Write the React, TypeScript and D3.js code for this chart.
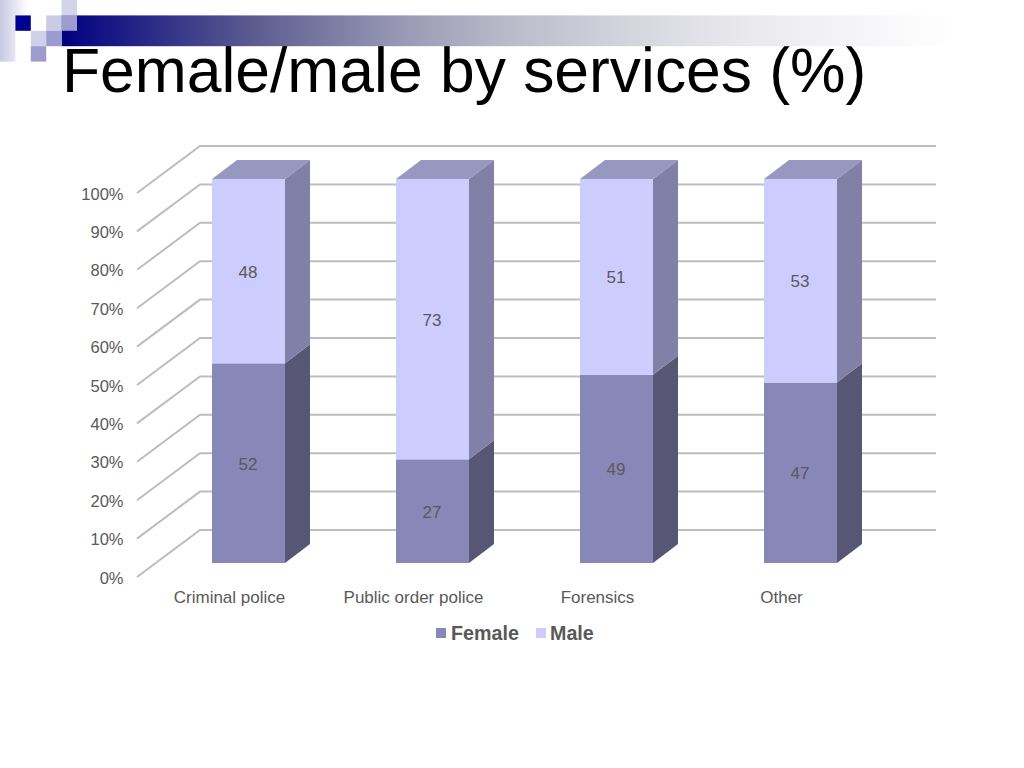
import * as d3 from 'd3';

const categories = ['Criminal police', 'Public order police', 'Forensics', 'Other'];
const female = [52, 27, 49, 47];
const male = [48, 73, 51, 53];
const yTicks = [0, 10, 20, 30, 40, 50, 60, 70, 80, 90, 100];
const seriesNames = ['Female', 'Male'];
const titleText = 'Female/male by services (%)';

const W = 1024;
const H = 768;
const textGrey = '#595959';
const fontFamily = "'Liberation Sans', Arial, sans-serif";

// front plane of the 3d walls, the back plane sits up and to the right of it
const wallDx = 63;
const wallDy = -47;
const barDx = 25;
const barDy = -19;

const xScale = d3.scaleBand<string>().domain(categories).range([137, 873]);
const yWall = d3.scaleLinear().domain([0, 100]).range([577, 193]);
const yBar = d3.scaleLinear().domain([0, 100]).range([563, 179]);
const barWidth = 73;
const barOffset = 19.5;

const rows = categories.map((c, i) => ({ category: c, Female: female[i], Male: male[i] }));
const stacked = d3.stack<any>().keys(seriesNames)(rows);

const colors: Record<string, { front: string; side: string; top: string }> = {
  Female: { front: '#8987b8', side: '#575675', top: '#6f6e98' },
  Male: { front: '#ccccff', side: '#8180a6', top: '#9797bf' },
};

const poly = d3.line();

// header squares, in units of one tile
const tile = 15.4;
const tiles = [
  { col: 1, row: 1, fill: '#000090' },
  { col: 3, row: 1, fill: '#cbcbe6' },
  { col: 4, row: 1, fill: '#9c9ccf' },
  { col: 4, row: 0, fill: '#d3d3ea' },
  { col: 2, row: 2, fill: '#d0d0e8' },
  { col: 3, row: 2, fill: '#9b9bcf' },
  { col: 2, row: 3, fill: '#9c9ccf' },
];

export default function App() {
  return (
    <svg
      width={W}
      height={H}
      viewBox={`0 0 ${W} ${H}`}
      style={{ position: 'absolute', left: 0, top: 0, background: '#fff' }}
      fontFamily={fontFamily}
    >
      <defs>
        <linearGradient id="band">
          <stop offset="0" stopColor="#000080" />
          <stop offset="0.205" stopColor="#5a5a90" />
          <stop offset="0.37" stopColor="#9999b5" />
          <stop offset="0.477" stopColor="#b8b8c8" />
          <stop offset="0.586" stopColor="#cfcfda" />
          <stop offset="0.695" stopColor="#e2e2e8" />
          <stop offset="0.8" stopColor="#efeff3" />
          <stop offset="0.97" stopColor="#ffffff" />
        </linearGradient>
        <linearGradient id="corner">
          <stop offset="0" stopColor="#c8c8e4" />
          <stop offset="1" stopColor="#ffffff" />
        </linearGradient>
      </defs>

      <text x={62} y={92} fontSize={62.4} fill="#000">
        {titleText}
      </text>

      {/* header decoration, the band covers the top of the title */}
      <rect x={0} y={0} width={28} height={tile * 4} fill="url(#corner)" />
      <rect x={tile} y={tile} width={tile * 3} height={tile * 3} fill="#fff" />
      <rect x={tile * 4} y={tile} width={920} height={tile * 2} fill="url(#band)" />
      {tiles.map((t, i) => (
        <rect key={i} x={t.col * tile} y={t.row * tile} width={tile} height={tile} fill={t.fill} />
      ))}

      {/* walls */}
      <g stroke="#bdbdbd" strokeWidth={2} fill="none">
        {yTicks.map((t) => (
          <path
            key={t}
            d={
              poly([
                [xScale.range()[0], yWall(t)],
                [xScale.range()[0] + wallDx, yWall(t) + wallDy],
                [xScale.range()[1] + wallDx, yWall(t) + wallDy],
              ]) as string
            }
          />
        ))}
      </g>
      {yTicks.map((t) => (
        <text key={t} x={123.5} y={yWall(t) + 6.5} fontSize={16.5} fill={textGrey} textAnchor="end">
          {t}%
        </text>
      ))}

      {/* bars */}
      {stacked.map((layer) => {
        const c = colors[layer.key];
        return layer.map((d, i) => {
          const x0 = (xScale(categories[i]) as number) + xScale.bandwidth() / 2 + barOffset - barWidth / 2;
          const x1 = x0 + barWidth;
          const yB = yBar(d[0]);
          const yT = yBar(d[1]);
          return (
            <g key={layer.key + i}>
              <path
                fill={c.side}
                d={
                  poly([
                    [x1, yB],
                    [x1 + barDx, yB + barDy],
                    [x1 + barDx, yT + barDy],
                    [x1, yT],
                  ]) + 'Z'
                }
              />
              {d[1] === 100 && (
                <path
                  fill={c.top}
                  d={
                    poly([
                      [x0, yT],
                      [x0 + barDx, yT + barDy],
                      [x1 + barDx, yT + barDy],
                      [x1, yT],
                    ]) + 'Z'
                  }
                />
              )}
              <rect x={x0} y={yT} width={barWidth} height={yB - yT} fill={c.front} />
              <text
                x={(x0 + x1) / 2 - 0.5}
                y={(yT + yB) / 2 + 6.5}
                fontSize={17}
                fill={textGrey}
                textAnchor="middle"
              >
                {d[1] - d[0]}
              </text>
            </g>
          );
        });
      })}

      {/* category labels */}
      {categories.map((c) => (
        <text
          key={c}
          x={(xScale(c) as number) + xScale.bandwidth() / 2 + 0.5}
          y={603}
          fontSize={17}
          fill={textGrey}
          textAnchor="middle"
        >
          {c}
        </text>
      ))}

      {/* legend */}
      <rect x={436} y={628} width={10} height={10} fill={colors.Female.front} />
      <text x={451} y={640} fontSize={19.7} fontWeight="bold" fill={textGrey}>
        {seriesNames[0]}
      </text>
      <rect x={536} y={628} width={10} height={10} fill={colors.Male.front} />
      <text x={550} y={640} fontSize={19.7} fontWeight="bold" fill={textGrey}>
        {seriesNames[1]}
      </text>
    </svg>
  );
}
